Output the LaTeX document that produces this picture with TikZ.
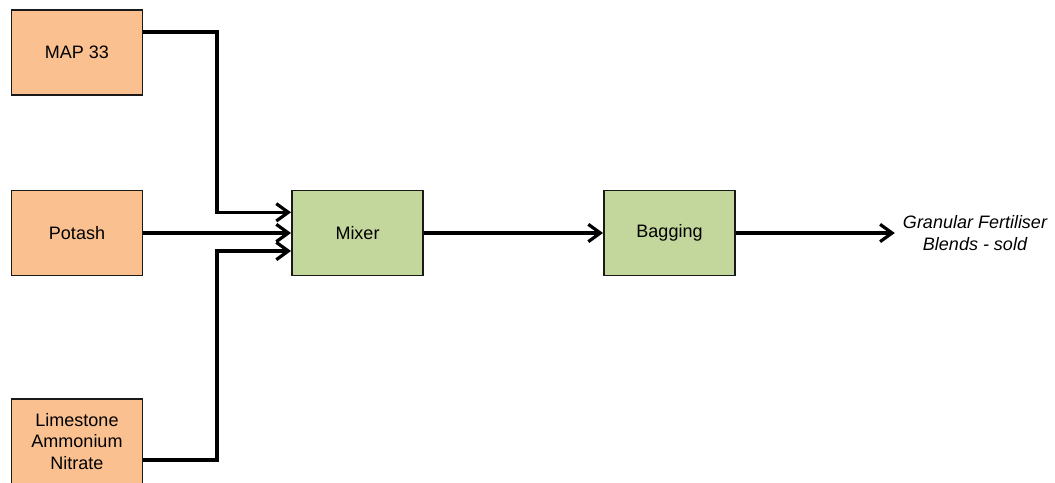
\documentclass[tikz,border=0pt]{standalone}
\usepackage{fontspec}
\setmainfont{Liberation Sans}
\usetikzlibrary{arrows.meta}

\definecolor{feedfill}{RGB}{250,192,144}
\definecolor{unitfill}{RGB}{195,214,155}

\tikzset{every picture/.style={line width=0.75pt}}
\tikzset{
	feed/.style={draw=black!90, line width=1.2pt, fill=feedfill, minimum width=98.5pt, minimum height=63.5pt, inner sep=0.75pt, align=center, font=\fontsize{13.5}{16.2}\selectfont},
	unit/.style={feed, fill=unitfill},
	flow/.style={draw=black, line width=2.4pt, -{Straight Barb[length=9pt,width=13pt]}},
	product/.style={inner sep=0.75pt, align=center, font=\fontsize{13.5}{16.2}\selectfont\itshape}
}

\begin{document}
\begin{tikzpicture}[x=0.75pt,y=0.75pt,yscale=-1,xscale=1]
		\useasboundingbox (0,0) rectangle (1055,482);

		% Feed Nodes
		\node [feed] (map) at (77,52.5) {MAP 33};
		\node [feed] (potash) at (77,233) {Potash};
		\node [feed] (lan) at (77,441.5) {Limestone\\Ammonium\\Nitrate};

		% Unit Nodes
		\node [unit] (mixer) at (357.5,233) {Mixer};
		\node [unit] (bagging) at (669.5,233) {Bagging};

		% Text Node
		\node [product] (blend) at (975,233) {Granular Fertiliser\\Blends - sold};

		%Bend points (yscale=-1, so a negative yshift goes up)
		\coordinate (topbend) at (217,32);
		\coordinate (lowbend) at (217,460);

		%Straight Lines
		\draw [flow] (map.east |- topbend) -- (topbend) |- ([yshift=-15.5pt]mixer.west);
		\draw [flow] (potash.east) -- (mixer.west);
		\draw [flow] (lan.east |- lowbend) -- (lowbend) |- ([yshift=13.5pt]mixer.west);
		\draw [flow] (mixer.east) -- (bagging.west);
		\draw [flow] (bagging.east) -- ([xshift=-5pt]blend.west);
	\end{tikzpicture}
\end{document}
